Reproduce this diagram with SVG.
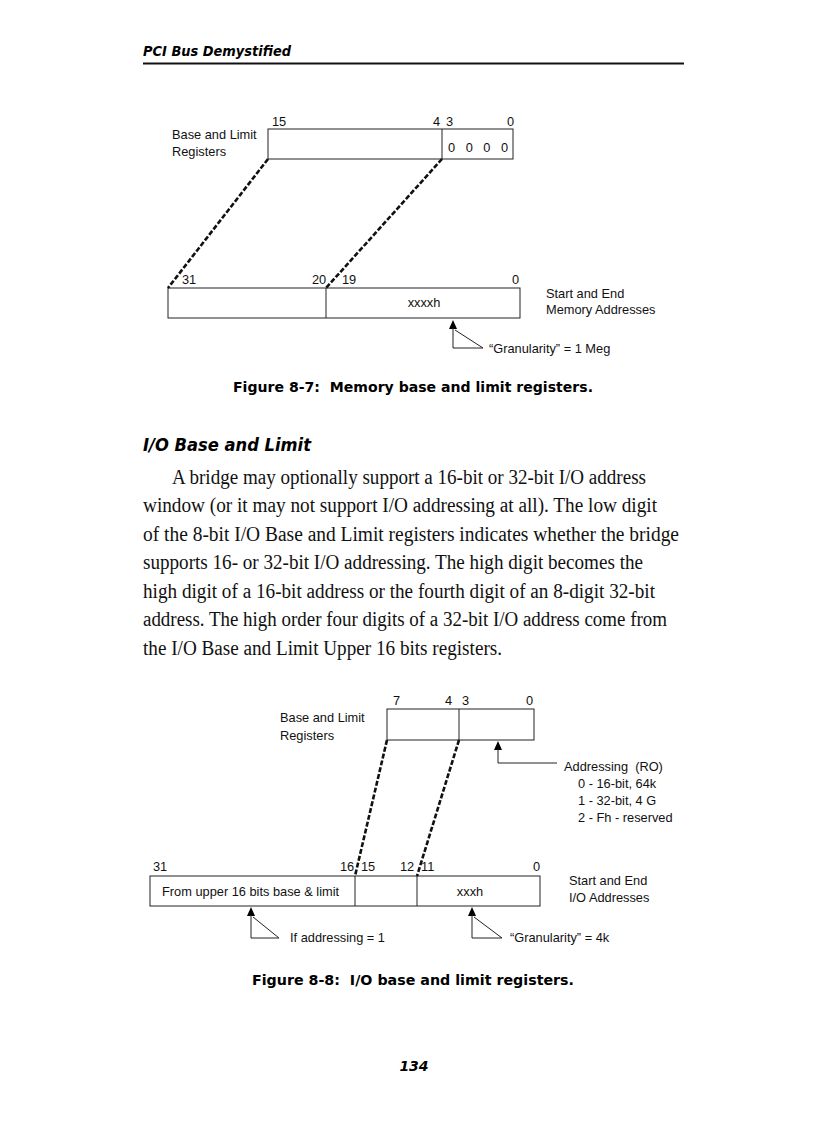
<svg xmlns="http://www.w3.org/2000/svg" width="816" height="1123" viewBox="0 0 816 1123">
<style>
.hd{font-family:"DejaVu Sans","Liberation Sans",sans-serif;font-weight:bold;font-style:italic;fill:#000}
.cap{font-family:"DejaVu Sans","Liberation Sans",sans-serif;font-weight:bold;font-size:14px;fill:#000;white-space:pre}
.body{font-family:"Liberation Serif","DejaVu Serif",serif;font-size:20px;fill:#111}
.lb{font-family:"Liberation Sans",Arial,sans-serif;font-size:12.8px;fill:#111;white-space:pre}
.box{fill:none;stroke:#222;stroke-width:1}
.ln{fill:none;stroke:#222;stroke-width:1}
.dash{fill:none;stroke:#111;stroke-width:2.6;stroke-dasharray:5 2}
.ah{fill:#000}
</style>
<rect width="816" height="1123" fill="#fff"/>
<g id="header">
<text class="hd" x="143" y="56" font-size="14" textLength="148" lengthAdjust="spacingAndGlyphs">PCI Bus Demystified</text>
<line x1="143" y1="63.5" x2="684" y2="63.5" stroke="#111" stroke-width="1.8"/>
</g>

<g id="fig87">
<g id="f87-reg">
<rect class="box" x="268" y="129" width="245" height="30"/>
<line class="ln" x1="442" y1="129" x2="442" y2="159"/>
<text class="lb" x="272" y="126">15</text>
<text class="lb" x="433" y="126">4</text>
<text class="lb" x="446" y="126">3</text>
<text class="lb" x="507" y="126">0</text>
<text class="lb" x="448" y="152" textLength="60">0 0 0 0</text>
<text class="lb" x="172" y="139">Base and Limit</text>
<text class="lb" x="172" y="156">Registers</text>
</g>
<g id="f87-addr">
<rect class="box" x="168" y="288" width="352" height="30"/>
<line class="ln" x1="326" y1="288" x2="326" y2="318"/>
<text class="lb" x="182" y="284">31</text>
<text class="lb" x="312" y="284">20</text>
<text class="lb" x="342" y="284">19</text>
<text class="lb" x="512" y="284">0</text>
<text class="lb" x="424" y="307" text-anchor="middle">xxxxh</text>
<text class="lb" x="546" y="298">Start and End</text>
<text class="lb" x="546" y="314">Memory Addresses</text>
</g>
<g id="f87-gran">
<polygon class="ah" points="453,320 449,329 457,329"/>
<polyline class="ln" points="453,328 453,348 483,348 455,330"/>
<text class="lb" x="489" y="353">“Granularity” = 1 Meg</text>
</g>
<g id="f87-connectors">
<line class="dash" x1="268" y1="159" x2="168" y2="288"/>
<line class="dash" x1="442" y1="159" x2="326" y2="288"/>
</g>
<text class="cap" x="233" y="392" textLength="360" lengthAdjust="spacingAndGlyphs">Figure 8-7:  Memory base and limit registers.</text>
</g>

<g id="text">
<text class="hd" x="143" y="451" font-size="18" textLength="168" lengthAdjust="spacingAndGlyphs">I/O Base and Limit</text>
<text class="body" x="172" y="484" textLength="474" lengthAdjust="spacingAndGlyphs">A bridge may optionally support a 16-bit or 32-bit I/O address</text>
<text class="body" x="143" y="512" textLength="514" lengthAdjust="spacingAndGlyphs">window (or it may not support I/O addressing at all). The low digit</text>
<text class="body" x="143" y="541" textLength="536" lengthAdjust="spacingAndGlyphs">of the 8-bit I/O Base and Limit registers indicates whether the bridge</text>
<text class="body" x="143" y="569" textLength="500" lengthAdjust="spacingAndGlyphs">supports 16- or 32-bit I/O addressing. The high digit becomes the</text>
<text class="body" x="143" y="598" textLength="512" lengthAdjust="spacingAndGlyphs">high digit of a 16-bit address or the fourth digit of an 8-digit 32-bit</text>
<text class="body" x="143" y="626" textLength="524" lengthAdjust="spacingAndGlyphs">address. The high order four digits of a 32-bit I/O address come from</text>
<text class="body" x="143" y="655" textLength="359" lengthAdjust="spacingAndGlyphs">the I/O Base and Limit Upper 16 bits registers.</text>
</g>

<g id="fig88">
<g id="f88-reg">
<rect class="box" x="387" y="709" width="147" height="31"/>
<line class="ln" x1="459" y1="709" x2="459" y2="740"/>
<text class="lb" x="393" y="705">7</text>
<text class="lb" x="445" y="705">4</text>
<text class="lb" x="462" y="705">3</text>
<text class="lb" x="526" y="705">0</text>
<text class="lb" x="280" y="722">Base and Limit</text>
<text class="lb" x="280" y="740">Registers</text>
</g>
<g id="f88-addressing">
<polygon class="ah" points="498,741 494,750 502,750"/>
<polyline class="ln" points="498,749 498,763 557,763"/>
<text class="lb" x="564" y="771">Addressing  (RO)</text>
<text class="lb" x="578" y="788">0 - 16-bit, 64k</text>
<text class="lb" x="578" y="805">1 - 32-bit, 4 G</text>
<text class="lb" x="578" y="822">2 - Fh - reserved</text>
</g>
<g id="f88-addr">
<rect class="box" x="150" y="876" width="390" height="30"/>
<line class="ln" x1="355" y1="876" x2="355" y2="906"/>
<line class="ln" x1="417" y1="876" x2="417" y2="906"/>
<text class="lb" x="153" y="871">31</text>
<text class="lb" x="340" y="871">16</text>
<text class="lb" x="361" y="871">15</text>
<text class="lb" x="400" y="871">12</text>
<text class="lb" x="421" y="871">11</text>
<text class="lb" x="533" y="871">0</text>
<text class="lb" x="162" y="896">From upper 16 bits base &amp; limit</text>
<text class="lb" x="470" y="896" text-anchor="middle">xxxh</text>
<text class="lb" x="569" y="885">Start and End</text>
<text class="lb" x="569" y="902">I/O Addresses</text>
</g>
<g id="f88-if">
<polygon class="ah" points="251,907 247,916 255,916"/>
<polyline class="ln" points="251,915 251,938 279,938 253,917"/>
<text class="lb" x="290" y="942">If addressing = 1</text>
</g>
<g id="f88-gran">
<polygon class="ah" points="472,907 468,916 476,916"/>
<polyline class="ln" points="472,915 472,938 502,938 474,917"/>
<text class="lb" x="510" y="942">“Granularity” = 4k</text>
</g>
<g id="f88-connectors">
<line class="dash" x1="387" y1="740" x2="355" y2="876"/>
<line class="dash" x1="459" y1="740" x2="417" y2="876"/>
</g>
<text class="cap" x="252" y="985" textLength="322" lengthAdjust="spacingAndGlyphs">Figure 8-8:  I/O base and limit registers.</text>
</g>

<g id="footer">
<text class="hd" x="414" y="1071" font-size="14" text-anchor="middle">134</text>
</g>
</svg>
